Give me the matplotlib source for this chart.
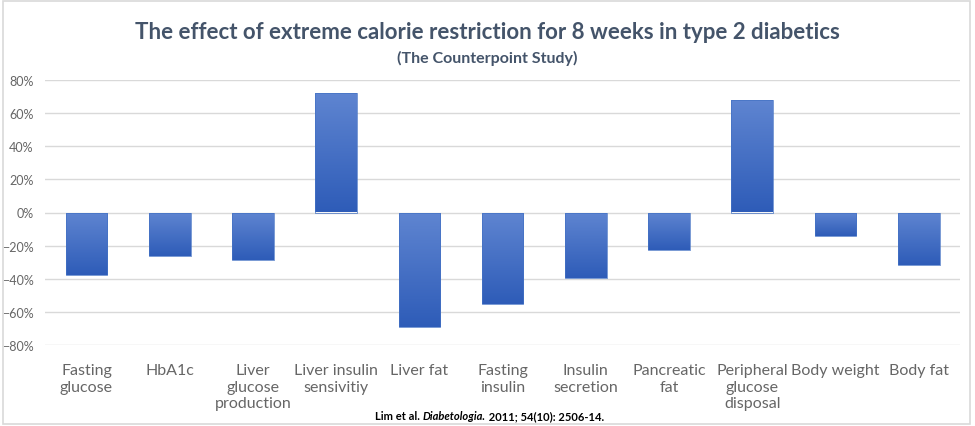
import numpy as np
import matplotlib.pyplot as plt
from matplotlib.patches import Rectangle
from matplotlib.ticker import PercentFormatter
from matplotlib.colors import LinearSegmentedColormap

categories = ['Fasting\nglucose', 'HbA1c', 'Liver\nglucose\nproduction',
              'Liver insulin\nsensivitiy', 'Liver fat', 'Fasting\ninsulin',
              'Insulin\nsecretion', 'Pancreatic\nfat', 'Peripheral\nglucose\ndisposal',
              'Body weight', 'Body fat']
changes = [-37.5, -26, -29, 72, -69.5, -55.6, -39.3, -22.4, 68, -14.5, -32]
yticks = [-80, -60, -40, -20, 0, 20, 40, 60, 80]

plt.rcParams['font.family'] = ['Lato', 'DejaVu Sans']

fig = plt.figure(figsize=(9.75, 4.27), dpi=100)
fig.patches.append(Rectangle((0.003, 0.005), 0.992, 0.99, transform=fig.transFigure,
                             fill=False, edgecolor='#d9d9d9', linewidth=1.2))
ax = fig.add_axes([0.046, 0.19, 0.939, 0.62])

x = np.arange(len(categories))
bars = ax.bar(x, changes, width=0.5, color='none', edgecolor='#4472c4', linewidth=0.5, zorder=3)

# vertical gradient fill, lighter at top
grad = np.linspace(0, 1, 256).reshape(-1, 1)
cmap = LinearSegmentedColormap.from_list('g', ['#2e5cb8', '#5f85d1'])
for b in bars:
    x0, y0 = b.get_x(), b.get_y()
    w, h = b.get_width(), b.get_height()
    lo, hi = min(y0, y0 + h), max(y0, y0 + h)
    im = ax.imshow(grad, extent=[x0, x0 + w, lo, hi], origin='lower', cmap=cmap,
                   aspect='auto', zorder=2)
    im.set_clip_path(b)

ax.set_xlim(-0.5, len(categories) - 0.5)
ax.set_ylim(-80, 80)
ax.set_yticks(yticks)
ax.yaxis.set_major_formatter(PercentFormatter(decimals=0))
ax.grid(axis='y', color='#d9d9d9', linewidth=1, zorder=0)
for s in ax.spines.values():
    s.set_visible(False)
ax.tick_params(axis='y', length=0, labelsize=9, labelcolor='#666666', pad=8)
ax.set_xticks(x)
ax.set_xticklabels(categories, fontsize=11.5, color='#666666', linespacing=1.25)
ax.tick_params(axis='x', length=0, pad=13)

fig.text(0.5, 0.925, 'The effect of extreme calorie restriction for 8 weeks in type 2 diabetics',
         ha='center', va='center', fontsize=16, fontweight='bold', color='#44546a')
fig.text(0.5, 0.862, '(The Counterpoint Study)', ha='center', va='center',
         fontsize=11.5, fontweight='bold', color='#44546a')

# citation built from pieces so the journal name can be italic
t1 = fig.text(0.385, 0.025, 'Lim et al. ', ha='left', va='center',
              fontsize=8, fontweight='bold', color='black')
t2 = fig.text(0, 0, 'Diabetologia.', ha='left', va='center', fontsize=8,
              fontweight='bold', fontstyle='italic', color='black')
t3 = fig.text(0, 0, ' 2011; 54(10): 2506-14.', ha='left', va='center',
              fontsize=8, fontweight='bold', color='black')
fig.canvas.draw()
r = fig.canvas.get_renderer()
bb1 = t1.get_window_extent(r)
t2.set_position(fig.transFigure.inverted().transform((bb1.x1, bb1.y0 + bb1.height / 2)))
bb2 = t2.get_window_extent(r)
t3.set_position(fig.transFigure.inverted().transform((bb2.x1, bb1.y0 + bb1.height / 2)))

fig.savefig('out.png', dpi=100)
